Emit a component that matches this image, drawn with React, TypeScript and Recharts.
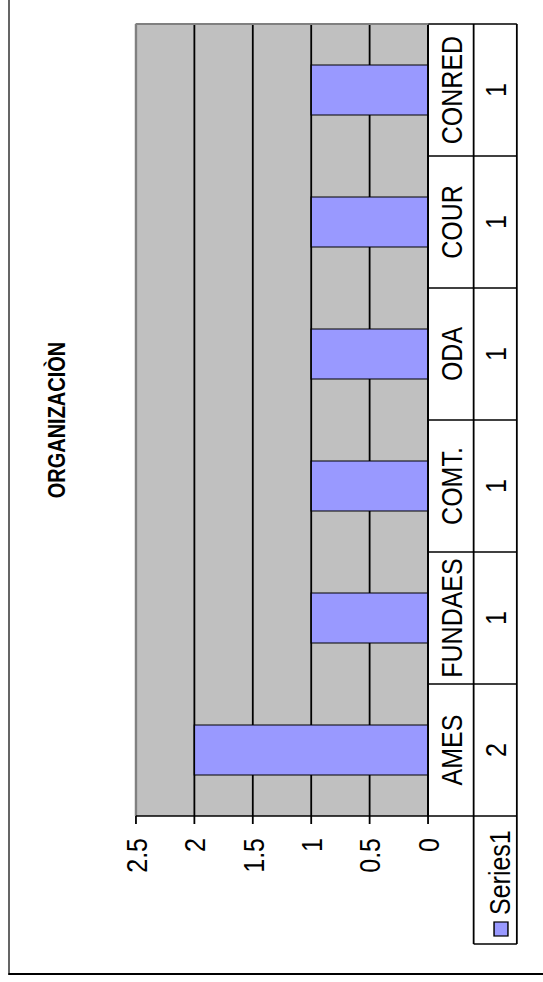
import React from "react";
import { BarChart, Bar, XAxis, YAxis, CartesianGrid, ReferenceLine } from "recharts";

// chart values
const categories = ["AMES", "FUNDAES", "COMT.", "ODA", "COUR", "CONRED"];
const series1 = [2, 1, 1, 1, 1, 1];
const valueTicks = [0, 0.5, 1, 1.5, 2, 2.5];
const seriesName = "Series1";
const title = "ORGANIZACIÒN";

const data = categories.map((name, i) => ({ name, value: series1[i] }));

// The picture is an upright Excel chart turned a quarter left and stretched a bit,
// so the chart is laid out upright here and the whole block gets rotated.
const STRETCH = 1.2;
const PAGE_W = 543;
const PAGE_H = 982;
const CHART_W = 1000;
const CHART_H = 460;
const PLOT_LEFT = 166;
const PLOT_RIGHT = 958;
const PLOT_TOP = 113.3;
const PLOT_BOTTOM = 356.7;
const ROW1 = 38; // category row of the data table
const ROW2 = 36; // value row of the data table
const LEGEND_LEFT = 38;
const Y_AXIS_W = 60;
const FONT = '"Liberation Sans", Arial, sans-serif';
const LINE = "#000";

const BAR_COLOR = "#9999ff";
const PLOT_BG = "#c0c0c0";

// draws one column of the data table under each category
const CategoryTick = (props: any) => {
  const { x, payload } = props;
  const band = (PLOT_RIGHT - PLOT_LEFT) / categories.length;
  const i = categories.indexOf(payload.value);
  const left = x - band / 2;
  const right = x + band / 2;
  const y0 = PLOT_BOTTOM;
  const y1 = y0 + ROW1;
  const y2 = y1 + ROW2;
  const lineProps = { stroke: LINE, strokeWidth: 1.5 };
  return (
    <g>
      <line x1={left} y1={y1} x2={right} y2={y1} {...lineProps} />
      <line x1={left} y1={y2} x2={right} y2={y2} {...lineProps} />
      <line x1={right} y1={y0} x2={right} y2={y2} {...lineProps} />
      {i === 0 && <line x1={left} y1={y0} x2={left} y2={y2} {...lineProps} />}
      <text x={x} y={y0 + ROW1 / 2 + 9} textAnchor="middle" fontFamily={FONT} fontSize={25} fill="#000">
        {payload.value}
      </text>
      <text x={x} y={y1 + ROW2 / 2 + 9} textAnchor="middle" fontFamily={FONT} fontSize={25} fill="#000">
        {series1[i]}
      </text>
      {i === 0 && (
        <g>
          <line x1={LEGEND_LEFT} y1={y1} x2={left} y2={y1} {...lineProps} />
          <line x1={LEGEND_LEFT} y1={y2} x2={left} y2={y2} {...lineProps} />
          <line x1={LEGEND_LEFT} y1={y1} x2={LEGEND_LEFT} y2={y2} {...lineProps} />
          <rect x={LEGEND_LEFT + 8} y={y1 + 17} width={14} height={11.6} fill={BAR_COLOR} stroke="#000" strokeWidth={1.2} />
          <text x={LEGEND_LEFT + 29} y={y1 + 30} fontFamily={FONT} fontSize={25} fill="#000">
            {seriesName}
          </text>
        </g>
      )}
    </g>
  );
};

const ValueTick = (props: any) => {
  const { y, payload } = props;
  return (
    <text x={PLOT_LEFT - 22} y={y + 9} textAnchor="end" fontFamily={FONT} fontSize={25} fill="#000">
      {payload.value}
    </text>
  );
};

export default function App() {
  return (
    <div
      style={{
        position: "absolute",
        left: 0,
        top: 0,
        width: PAGE_W,
        height: PAGE_H,
        overflow: "hidden",
        background: "#fff",
      }}
    >
      <div
        style={{
          position: "absolute",
          left: 0,
          top: 0,
          width: CHART_W,
          height: CHART_H,
          transformOrigin: "0 0",
          transform: `translate(0px, ${PAGE_H}px) rotate(-90deg) scale(1, ${STRETCH})`,
        }}
      >
        {/* chart area border */}
        <div
          style={{
            position: "absolute",
            left: 7,
            top: 6.7,
            width: 1200,
            height: 700,
            borderLeft: "2px solid #000",
            borderTop: "1.7px solid #000",
          }}
        />
        <div
          style={{
            position: "absolute",
            left: PLOT_LEFT,
            top: 37,
            width: PLOT_RIGHT - PLOT_LEFT,
            textAlign: "center",
            fontFamily: FONT,
            fontWeight: "bold",
            fontSize: 20,
            lineHeight: "20px",
            color: "#000",
          }}
        >
          {title}
        </div>
        <div style={{ position: "absolute", left: 0, top: 0 }}>
          <BarChart
            width={CHART_W}
            height={CHART_H}
            data={data}
            margin={{
              left: PLOT_LEFT - Y_AXIS_W,
              right: CHART_W - PLOT_RIGHT,
              top: PLOT_TOP,
              bottom: CHART_H - PLOT_BOTTOM - ROW1 - ROW2,
            }}
          >
            <CartesianGrid vertical={false} stroke={LINE} strokeWidth={1.5} fill={PLOT_BG} fillOpacity={1} />
            <XAxis
              dataKey="name"
              height={ROW1 + ROW2}
              axisLine={{ stroke: LINE, strokeWidth: 1.5 }}
              tickLine={false}
              tickSize={0}
              tickMargin={0}
              interval={0}
              tick={<CategoryTick />}
            />
            <YAxis
              type="number"
              domain={[0, 2.5]}
              ticks={valueTicks}
              interval={0}
              width={Y_AXIS_W}
              tickSize={8}
              axisLine={{ stroke: LINE, strokeWidth: 1.5 }}
              tickLine={{ stroke: LINE, strokeWidth: 1.5 }}
              tick={<ValueTick />}
            />
            <ReferenceLine y={2.5} stroke="#808080" strokeWidth={2} />
            <Bar dataKey="value" fill={BAR_COLOR} stroke="#000" strokeWidth={1.2} barSize={50} isAnimationActive={false} />
          </BarChart>
        </div>
        {/* right edge of the plot area */}
        <div
          style={{
            position: "absolute",
            left: PLOT_RIGHT - 1,
            top: PLOT_TOP,
            width: 1.5,
            height: PLOT_BOTTOM - PLOT_TOP,
            background: "#808080",
          }}
        />
      </div>
    </div>
  );
}
